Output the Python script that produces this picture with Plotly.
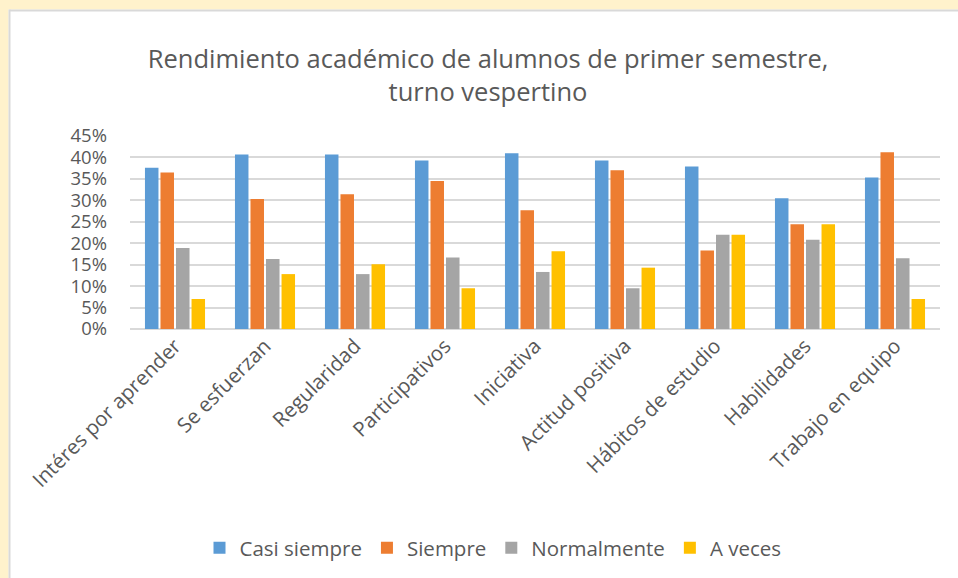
import plotly.graph_objects as go

categories = ["Intéres por aprender", "Se esfuerzan", "Regularidad", "Participativos",
              "Iniciativa", "Actitud positiva", "Hábitos de estudio", "Habilidades",
              "Trabajo en equipo"]
casi_siempre = [0.376, 0.407, 0.407, 0.393, 0.410, 0.393, 0.379, 0.305, 0.353]
siempre      = [0.365, 0.303, 0.314, 0.345, 0.277, 0.370, 0.183, 0.244, 0.412]
normalmente  = [0.189, 0.163, 0.128, 0.167, 0.133, 0.095, 0.220, 0.208, 0.165]
a_veces      = [0.070, 0.128, 0.151, 0.095, 0.181, 0.143, 0.220, 0.244, 0.070]
series_names = ["Casi siempre", "Siempre", "Normalmente", "A veces"]
colors = ["#5B9BD5", "#ED7D31", "#A5A5A5", "#FFC000"]
y_ticks = [0, 0.05, 0.10, 0.15, 0.20, 0.25, 0.30, 0.35, 0.40, 0.45]

FONT = "Open Sans"
TXT = "#595959"
CREAM = "#FFF2CC"
fig = go.Figure()
for name, vals, col in zip(series_names, [casi_siempre, siempre, normalmente, a_veces], colors):
    fig.add_trace(go.Bar(name=name, x=categories, y=vals, marker_color=col,
                         marker_line_width=0))

W, H = 958, 578
ml, mr, mt, mb = 130, 18, 136, 249
pw, ph = W - ml - mr, H - mt - mb

def px_x(p):
    return (p - ml) / pw

def px_y(p):
    return (H - mb - p) / ph

shapes = [
    # cream strip on the left and top
    dict(type="rect", xref="paper", yref="paper", layer="below",
         x0=px_x(0), x1=px_x(8.5), y0=px_y(H), y1=px_y(0),
         fillcolor=CREAM, line=dict(width=0)),
    dict(type="rect", xref="paper", yref="paper", layer="below",
         x0=px_x(0), x1=px_x(W), y0=px_y(9.5), y1=px_y(0),
         fillcolor=CREAM, line=dict(width=0)),
    # grey chart border
    dict(type="line", xref="paper", yref="paper", layer="below",
         x0=px_x(9.5), x1=px_x(9.5), y0=px_y(H), y1=px_y(9.5),
         line=dict(color="#D9D9D9", width=2)),
    dict(type="line", xref="paper", yref="paper", layer="below",
         x0=px_x(9.5), x1=px_x(W), y0=px_y(10.5), y1=px_y(10.5),
         line=dict(color="#D9D9D9", width=2)),
]

fig.update_layout(
    width=W, height=H,
    margin=dict(l=ml, r=mr, t=mt, b=mb, autoexpand=False),
    paper_bgcolor="white",
    plot_bgcolor="white",
    barmode="group",
    bargap=0.31,
    bargroupgap=0.13,
    font=dict(family=FONT, color=TXT, size=19),
    title=dict(text="Rendimiento académico de alumnos de primer semestre,<br>turno vespertino",
               x=488 / W, xanchor="center", xref="container", y=1 - 68 / H, yref="container",
               yanchor="middle",
               font=dict(family=FONT, size=25.5, color=TXT)),
    showlegend=True,
    legend=dict(orientation="h", x=px_x(493), xanchor="center", y=px_y(548), yanchor="middle",
                font=dict(family=FONT, size=20.5, color=TXT),
                traceorder="normal", itemwidth=30, bgcolor="rgba(0,0,0,0)"),
    shapes=shapes,
)
fig.update_xaxes(showgrid=False, showline=False, ticks="", tickangle=-45,
                 tickfont=dict(family=FONT, size=20.5, color=TXT))
fig.update_yaxes(range=[0, 0.45], tickvals=y_ticks, tickformat=".0%",
                 showgrid=True, gridcolor="#D9D9D9", gridwidth=1.5,
                 zeroline=True, zerolinecolor="#D9D9D9", zerolinewidth=1.5,
                 showline=False, ticks="", ticklabelstandoff=22,
                 tickfont=dict(family=FONT, size=18.5, color=TXT))

fig.write_html("out.html", config={"displayModeBar": False},
               post_script="document.body.style.margin='0';document.body.style.overflow='hidden';")
